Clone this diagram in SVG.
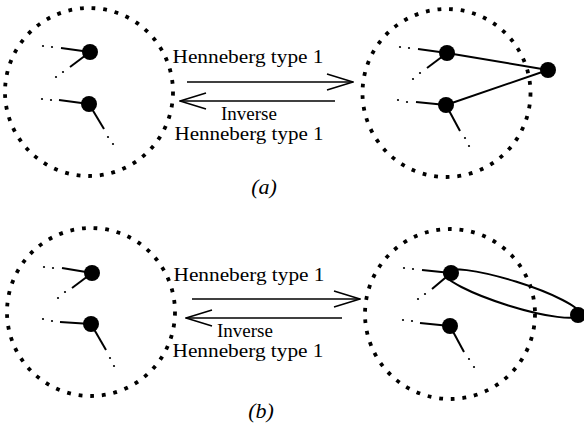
<svg xmlns="http://www.w3.org/2000/svg" width="584" height="437" viewBox="0 0 584 437">
<style>
.ring{fill:none;stroke:#000;stroke-width:3.8;stroke-dasharray:3.8 7.9}
.edge{fill:none;stroke:#000;stroke-width:2}
.arr{fill:none;stroke:#000;stroke-width:1.6}
.node{fill:#000}
.dot{fill:#000}
.t{font-family:"Liberation Serif","Times New Roman",serif;font-size:19px;fill:#000}
.lab{font-family:"Liberation Serif","Times New Roman",serif;font-size:22px;font-style:italic;fill:#000}
</style>
<defs>
<marker id="open" viewBox="0 0 28 18" refX="27" refY="9" markerWidth="28" markerHeight="18" markerUnits="userSpaceOnUse" orient="auto">
<path d="M1,1 L27,9 L1,17" fill="none" stroke="#000" stroke-width="1.6"/>
</marker>
</defs>

<!-- (a) left -->
<g id="a-left">
<circle class="ring" cx="89" cy="92" r="84"/>
<line class="edge" x1="90" y1="52" x2="61" y2="48"/>
<circle class="dot" cx="52" cy="47" r="1.1"/><circle class="dot" cx="43" cy="46" r="1.1"/>
<line class="edge" x1="90" y1="52" x2="70" y2="67"/>
<circle class="dot" cx="63" cy="72" r="1.1"/><circle class="dot" cx="56" cy="77" r="1.1"/>
<circle class="node" cx="90" cy="52" r="8"/>
<line class="edge" x1="89" y1="104" x2="59" y2="100"/>
<circle class="dot" cx="51" cy="100" r="1.1"/><circle class="dot" cx="42" cy="99" r="1.1"/>
<line class="edge" x1="89" y1="104" x2="104" y2="129"/>
<circle class="dot" cx="108" cy="137" r="1.1"/><circle class="dot" cx="113" cy="144" r="1.1"/>
<circle class="node" cx="89" cy="104" r="8"/>
</g>

<!-- (a) right -->
<g id="a-right">
<circle class="ring" cx="446.5" cy="93" r="84"/>
<line class="edge" x1="447" y1="53" x2="418" y2="49"/>
<circle class="dot" cx="409" cy="48" r="1.1"/><circle class="dot" cx="400" cy="47" r="1.1"/>
<line class="edge" x1="447" y1="53" x2="427" y2="68"/>
<circle class="dot" cx="420" cy="73" r="1.1"/><circle class="dot" cx="413" cy="79" r="1.1"/>
<line class="edge" x1="446" y1="105" x2="416" y2="102"/>
<circle class="dot" cx="407" cy="102" r="1.1"/><circle class="dot" cx="398" cy="100" r="1.1"/>
<line class="edge" x1="446" y1="105" x2="460" y2="131"/>
<circle class="dot" cx="465" cy="138" r="1.1"/><circle class="dot" cx="469" cy="146" r="1.1"/>
<line class="edge" x1="447" y1="53" x2="548" y2="70"/>
<line class="edge" x1="446" y1="105" x2="548" y2="70"/>
<circle class="node" cx="447" cy="53" r="8"/>
<circle class="node" cx="446" cy="105" r="8"/>
<circle class="node" cx="548" cy="70" r="8"/>
</g>

<!-- (b) left -->
<g id="b-left">
<circle class="ring" cx="91" cy="312" r="84"/>
<line class="edge" x1="92" y1="273" x2="62" y2="268"/>
<circle class="dot" cx="53" cy="268" r="1.1"/><circle class="dot" cx="44" cy="267" r="1.1"/>
<line class="edge" x1="92" y1="273" x2="72" y2="288"/>
<circle class="dot" cx="65" cy="292" r="1.1"/><circle class="dot" cx="58" cy="298" r="1.1"/>
<circle class="node" cx="92" cy="273" r="8"/>
<line class="edge" x1="91" y1="324" x2="60" y2="322"/>
<circle class="dot" cx="52" cy="321" r="1.1"/><circle class="dot" cx="43" cy="319" r="1.1"/>
<line class="edge" x1="91" y1="324" x2="106" y2="350"/>
<circle class="dot" cx="110" cy="358" r="1.1"/><circle class="dot" cx="114" cy="366" r="1.1"/>
<circle class="node" cx="91" cy="324" r="8"/>
</g>

<!-- (b) right -->
<g id="b-right">
<circle class="ring" cx="450" cy="314" r="85"/>
<line class="edge" x1="451" y1="273" x2="422" y2="270"/>
<circle class="dot" cx="413" cy="269" r="1.1"/><circle class="dot" cx="404" cy="268" r="1.1"/>
<line class="edge" x1="451" y1="273" x2="432" y2="289"/>
<circle class="dot" cx="425" cy="294" r="1.1"/><circle class="dot" cx="418" cy="299" r="1.1"/>
<line class="edge" x1="450" y1="326" x2="420" y2="323"/>
<circle class="dot" cx="412" cy="321" r="1.1"/><circle class="dot" cx="403" cy="320" r="1.1"/>
<line class="edge" x1="450" y1="326" x2="464" y2="352"/>
<circle class="dot" cx="469" cy="359" r="1.1"/><circle class="dot" cx="474" cy="367" r="1.1"/>
<ellipse class="edge" cx="512" cy="293.5" rx="71" ry="12.5" transform="rotate(17.3 512 293.5)"/>
<circle class="node" cx="451" cy="273" r="8"/>
<circle class="node" cx="450" cy="326" r="8"/>
<circle class="node" cx="578" cy="315" r="8"/>
</g>

<!-- connectors -->
<g id="connectors">
<line class="arr" x1="187" y1="82" x2="353" y2="82" marker-end="url(#open)"/>
<line class="arr" x1="335" y1="101" x2="180" y2="101" marker-end="url(#open)"/>
<line class="arr" x1="192" y1="299" x2="360" y2="299" marker-end="url(#open)"/>
<line class="arr" x1="342" y1="318" x2="186" y2="318" marker-end="url(#open)"/>
</g>

<!-- labels -->
<g id="labels">
<text class="t" x="248" y="63" text-anchor="middle" textLength="151" lengthAdjust="spacingAndGlyphs">Henneberg type 1</text>
<text class="t" x="249" y="120" text-anchor="middle">Inverse</text>
<text class="t" x="249" y="140" text-anchor="middle" textLength="149" lengthAdjust="spacingAndGlyphs">Henneberg type 1</text>
<text class="lab" x="264" y="194" text-anchor="middle">(a)</text>
<text class="t" x="249" y="281" text-anchor="middle" textLength="151" lengthAdjust="spacingAndGlyphs">Henneberg type 1</text>
<text class="t" x="245" y="337" text-anchor="middle">Inverse</text>
<text class="t" x="248" y="357" text-anchor="middle" textLength="151" lengthAdjust="spacingAndGlyphs">Henneberg type 1</text>
<text class="lab" x="261" y="418" text-anchor="middle">(b)</text>
</g>
</svg>
